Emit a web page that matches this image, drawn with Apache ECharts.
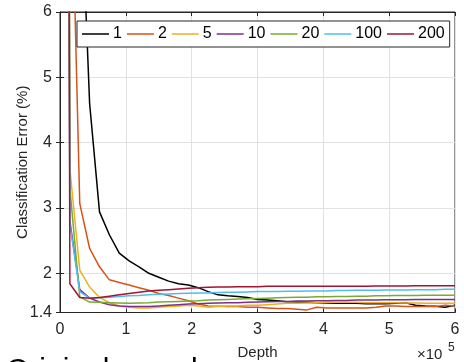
<!DOCTYPE html>
<html>
<head>
<meta charset="utf-8">
<script src="https://cdn.jsdelivr.net/npm/echarts@6/dist/echarts.min.js"></script>
<style>
	html, body { margin: 0; padding: 0; background: #fff; }
	#chart { width: 464px; height: 362px; }
</style>
</head>
<body>
<div id="chart"></div>
<script>
// depth samples (every 15000)
const depths = [
	0, 15000, 30000, 45000, 60000, 75000, 90000, 105000, 120000, 135000,
	150000, 165000, 180000, 195000, 210000, 225000, 240000, 255000, 270000, 285000,
	300000, 315000, 330000, 345000, 360000, 375000, 390000, 405000, 420000, 435000,
	450000, 465000, 480000, 495000, 510000, 525000, 540000, 555000, 570000, 585000,
	600000,
]

const seriesNames = ['1', '2', '5', '10', '20', '100', '200']
const colors = ['#000000', '#D95319', '#EDB120', '#7E2F8E', '#77AC30', '#4DBEEE', '#A2142F']

const err1 = [60, 20, 8.4, 4.6, 2.94, 2.59, 2.31, 2.19, 2.1, 2.0, 1.94, 1.88, 1.84, 1.82, 1.78, 1.72, 1.67, 1.655, 1.645, 1.63, 1.6, 1.59, 1.58, 1.565, 1.56, 1.555, 1.55, 1.545, 1.54, 1.54, 1.54, 1.535, 1.535, 1.535, 1.54, 1.55, 1.51, 1.5, 1.495, 1.48, 1.51]
const err2 = [60, 9.2, 3.07, 2.38, 2.1, 1.9, 1.86, 1.82, 1.78, 1.74, 1.69, 1.66, 1.62, 1.58, 1.53, 1.5, 1.495, 1.49, 1.49, 1.48, 1.48, 1.47, 1.46, 1.46, 1.45, 1.44, 1.48, 1.47, 1.47, 1.47, 1.47, 1.47, 1.48, 1.5, 1.5, 1.49, 1.49, 1.49, 1.49, 1.51, 1.5]
const err5 = [60, 3.6, 2.05, 1.79, 1.63, 1.55, 1.5, 1.48, 1.47, 1.47, 1.48, 1.49, 1.5, 1.51, 1.5, 1.48, 1.49, 1.5, 1.5, 1.51, 1.51, 1.52, 1.53, 1.54, 1.54, 1.545, 1.55, 1.555, 1.555, 1.555, 1.555, 1.55, 1.55, 1.55, 1.55, 1.545, 1.545, 1.54, 1.54, 1.54, 1.54]
const err10 = [60, 2.8, 1.75, 1.62, 1.56, 1.52, 1.5, 1.49, 1.49, 1.49, 1.5, 1.51, 1.52, 1.53, 1.535, 1.54, 1.545, 1.55, 1.55, 1.555, 1.56, 1.565, 1.57, 1.57, 1.575, 1.575, 1.58, 1.58, 1.585, 1.585, 1.59, 1.59, 1.59, 1.595, 1.595, 1.595, 1.6, 1.6, 1.6, 1.6, 1.6]
const err20 = [60, 3.3, 1.64, 1.56, 1.555, 1.55, 1.545, 1.54, 1.545, 1.55, 1.56, 1.565, 1.57, 1.575, 1.58, 1.59, 1.595, 1.6, 1.605, 1.61, 1.615, 1.62, 1.625, 1.63, 1.635, 1.635, 1.64, 1.64, 1.645, 1.645, 1.65, 1.65, 1.655, 1.655, 1.66, 1.66, 1.66, 1.665, 1.665, 1.665, 1.665]
const err100 = [60, 2.75, 1.72, 1.62, 1.625, 1.635, 1.645, 1.655, 1.66, 1.67, 1.68, 1.685, 1.69, 1.695, 1.7, 1.7, 1.705, 1.71, 1.71, 1.715, 1.72, 1.72, 1.72, 1.725, 1.725, 1.73, 1.73, 1.73, 1.735, 1.735, 1.74, 1.74, 1.74, 1.745, 1.745, 1.745, 1.75, 1.75, 1.75, 1.755, 1.755]
const err200 = [60, 1.84, 1.63, 1.62, 1.63, 1.65, 1.67, 1.69, 1.71, 1.73, 1.74, 1.75, 1.76, 1.77, 1.78, 1.785, 1.79, 1.79, 1.795, 1.795, 1.795, 1.8, 1.8, 1.8, 1.8, 1.8, 1.8, 1.8, 1.8, 1.8, 1.8, 1.8, 1.805, 1.805, 1.805, 1.805, 1.81, 1.81, 1.81, 1.81, 1.81]

const yTicks = [1.4, 2, 3, 4, 5, 6]

const allErrors = [err1, err2, err5, err10, err20, err100, err200]
const font = 'Liberation Sans, Arial, Helvetica, sans-serif'
const axisColor = '#262626'

const chart = echarts.init(document.getElementById('chart'), null, { renderer: 'canvas' })

const series = seriesNames.map((name, i) => ({
	name: name,
	type: 'line',
	symbol: 'none',
	clip: true,
	data: depths.map((d, j) => [d, allErrors[i][j]]),
	lineStyle: { width: 1.5, color: colors[i] },
	itemStyle: { color: colors[i] },
}))

const options = {
	animation: false,
	textStyle: { fontFamily: font },
	grid: {
		left: 60,
		right: 9,
		top: 12,
		bottom: 49.5,
		containLabel: false,
		outerBoundsMode: 'none',
		show: true,
		borderColor: axisColor,
		borderWidth: 1,
		backgroundColor: '#fff',
	},
	legend: {
		data: seriesNames,
		left: 77,
		top: 21,
		orient: 'horizontal',
		icon: 'rect',
		itemWidth: 27,
		itemHeight: 1.5,
		itemGap: 5,
		padding: [5, 5, 5, 5],
		backgroundColor: '#fff',
		borderColor: axisColor,
		borderWidth: 1,
		borderRadius: 0,
		textStyle: { fontFamily: font, fontSize: 16, color: '#000', padding: [0, 0, 0, -1] },
	},
	xAxis: [
		{
			type: 'value',
			min: 0,
			max: 600000,
			interval: 100000,
			name: 'Depth',
			nameLocation: 'middle',
			nameGap: 33,
			nameMoveOverlap: false,
			nameTextStyle: { fontFamily: font, fontSize: 15, color: axisColor },
			axisLine: { show: true, lineStyle: { color: axisColor } },
			axisTick: { show: true, inside: true, length: 4, lineStyle: { color: axisColor } },
			axisLabel: {
				fontFamily: font,
				fontSize: 16,
				color: axisColor,
				margin: 9,
				formatter: (v) => String(v / 100000),
			},
			splitLine: { show: true, lineStyle: { color: '#e2e2e2' } },
		},
		{
			type: 'value',
			position: 'top',
			min: 0,
			max: 600000,
			interval: 100000,
			axisLine: { show: true, lineStyle: { color: axisColor } },
			axisTick: { show: true, inside: true, length: 4, lineStyle: { color: axisColor } },
			axisLabel: { show: false },
			splitLine: { show: false },
		},
	],
	yAxis: [
		{
			type: 'value',
			min: 1.4,
			max: 6,
			name: 'Classification Error (%)',
			nameLocation: 'middle',
			nameGap: 30,
			nameMoveOverlap: false,
			nameTextStyle: { fontFamily: font, fontSize: 15, color: axisColor },
			axisLine: { show: true, lineStyle: { color: axisColor } },
			axisTick: { show: true, inside: true, length: 4, customValues: yTicks, lineStyle: { color: axisColor } },
			axisLabel: { fontFamily: font, fontSize: 16, color: axisColor, margin: 8, customValues: yTicks },
			splitLine: { show: true, lineStyle: { color: '#e2e2e2' } },
		},
		{
			type: 'value',
			position: 'right',
			min: 1.4,
			max: 6,
			axisLine: { show: true, lineStyle: { color: axisColor } },
			axisTick: { show: true, inside: true, length: 4, customValues: yTicks, lineStyle: { color: axisColor } },
			axisLabel: { show: false },
			splitLine: { show: false },
		},
	],
	graphic: [
		{
			type: 'text',
			x: 417,
			y: 347,
			style: { text: '×10', fontFamily: font, fontSize: 15, fill: axisColor, verticalAlign: 'top' },
		},
		{
			type: 'text',
			x: 448,
			y: 342,
			style: { text: '5', fontFamily: font, fontSize: 12, fill: axisColor, verticalAlign: 'top' },
		},
		{
			type: 'text',
			x: 6,
			y: 356,
			style: { text: 'Original sampler', fontFamily: font, fontSize: 30, fill: '#000', verticalAlign: 'top' },
		},
	],
	series: series,
}

chart.setOption(options)
</script>
</body>
</html>
